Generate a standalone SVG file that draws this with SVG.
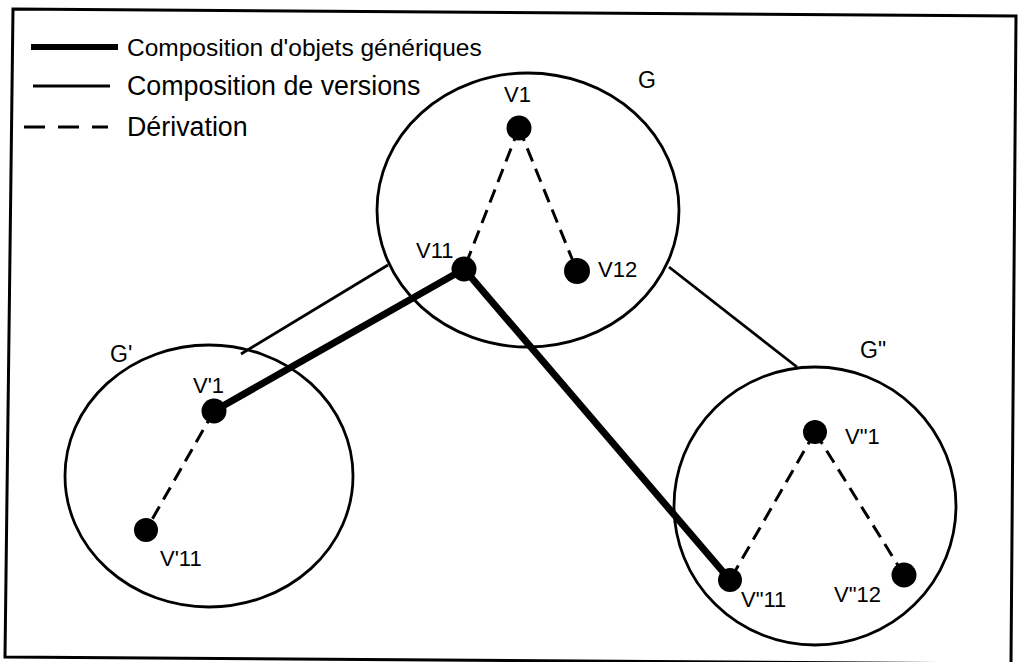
<svg xmlns="http://www.w3.org/2000/svg" width="1018" height="662" viewBox="0 0 1018 662">
<style>
.frame{fill:none;stroke:#000;stroke-width:3}
.grp{fill:none;stroke:#000;stroke-width:2.8}
.node{fill:#000}
.thick{stroke:#000;stroke-width:7;stroke-linecap:butt;fill:none}
.thin{stroke:#000;stroke-width:2.8;fill:none}
.dash{stroke:#000;stroke-width:3;stroke-dasharray:14 8;fill:none}
.lbl{font-family:"Liberation Sans",Arial,sans-serif;font-size:22px;fill:#000}
.glbl{font-family:"Liberation Sans",Arial,sans-serif;font-size:23px;fill:#000}
.leg{font-family:"Liberation Sans",Arial,sans-serif;fill:#000}
</style>
<rect x="0" y="0" width="1018" height="662" fill="#fff"/>
<polygon class="frame" points="13,9 1016,16 1011,664 5,657"/>
<g id="legend">
<line x1="31" y1="47" x2="118" y2="47" stroke="#000" stroke-width="6"/>
<text class="leg" x="127" y="56" font-size="24.5">Composition d'objets génériques</text>
<line x1="33" y1="86" x2="110" y2="86" stroke="#000" stroke-width="2.8"/>
<text class="leg" x="127" y="95" font-size="26.8">Composition de versions</text>
<line x1="24" y1="127" x2="108" y2="127" stroke="#000" stroke-width="2.8" stroke-dasharray="21 13"/>
<text class="leg" x="127" y="136" font-size="26.8">Dérivation</text>
</g>
<g id="connectors">
<line class="thin" x1="241" y1="354" x2="388" y2="265"/>
<line class="thin" x1="669" y1="267" x2="797" y2="367"/>
<line class="thick" x1="464" y1="269" x2="214" y2="411"/>
<line class="thick" x1="464" y1="269" x2="730" y2="580"/>
<line class="dash" x1="519" y1="128" x2="464" y2="269"/>
<line class="dash" x1="519" y1="128" x2="577" y2="271"/>
<line class="dash" x1="214" y1="411" x2="146" y2="530"/>
<line class="dash" x1="815" y1="432" x2="730" y2="580"/>
<line class="dash" x1="815" y1="432" x2="904" y2="575"/>
</g>
<g id="G">
<ellipse class="grp" cx="528" cy="210" rx="151" ry="137"/>
<text class="glbl" x="638" y="88">G</text>
</g>
<g id="G1">
<ellipse class="grp" cx="209" cy="476" rx="144" ry="131"/>
<text class="glbl" x="110" y="362">G'</text>
</g>
<g id="G2">
<ellipse class="grp" cx="815" cy="506" rx="141" ry="139"/>
<text class="glbl" x="860" y="358">G"</text>
</g>
<g id="V1"><circle class="node" cx="519" cy="128" r="12.5"/><text class="lbl" x="504" y="102">V1</text></g>
<g id="V11"><circle class="node" cx="464" cy="269" r="12.5"/><text class="lbl" x="416" y="258">V11</text></g>
<g id="V12"><circle class="node" cx="577" cy="271" r="13"/><text class="lbl" x="598" y="277">V12</text></g>
<g id="Vp1"><circle class="node" cx="214" cy="411" r="12.5"/><text class="lbl" x="193" y="393">V'1</text></g>
<g id="Vp11"><circle class="node" cx="146" cy="530" r="12"/><text class="lbl" x="160" y="566">V'11</text></g>
<g id="Vs1"><circle class="node" cx="815" cy="432" r="12"/><text class="lbl" x="845" y="444">V"1</text></g>
<g id="Vs11"><circle class="node" cx="730" cy="580" r="12"/><text class="lbl" x="741" y="607">V"11</text></g>
<g id="Vs12"><circle class="node" cx="904" cy="575" r="12.5"/><text class="lbl" x="834" y="602">V"12</text></g>
</svg>
